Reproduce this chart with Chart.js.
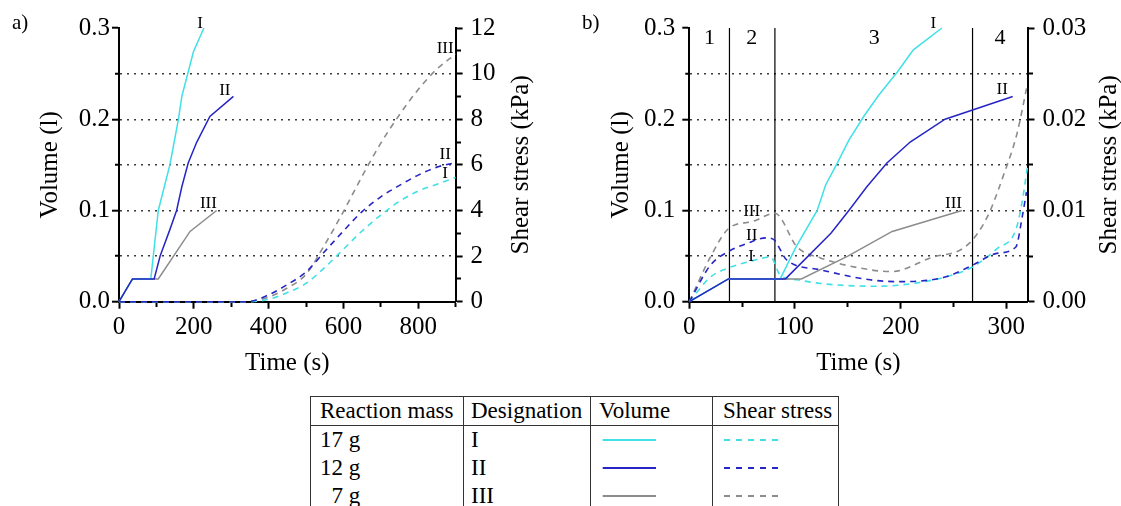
<!DOCTYPE html>
<html>
<head>
<meta charset="utf-8">
<script src="https://cdn.jsdelivr.net/npm/chart.js@4.4.1/dist/chart.umd.min.js"></script>
<style>
  body { margin: 0; width: 1121px; height: 506px; overflow: hidden; background: #fff; position: relative;
         font-family: "Liberation Serif", "Times New Roman", serif; color: #000; }
  canvas { position: absolute; top: 0; }
  .tag { position: absolute; top: 12px; font-size: 21px; line-height: 1; }
  table { position: absolute; left: 310px; top: 396px; border-collapse: collapse; font-size: 23px; table-layout: fixed; }
  th, td { text-align: left; font-weight: normal; border-left: 1.5px solid #333; border-right: 1.5px solid #333;
           height: 28px; line-height: 28px; padding: 0 0 0 8px; white-space: nowrap; vertical-align: middle; overflow: hidden; }
  th { border-top: 1.5px solid #333; border-bottom: 1.5px solid #333; height: 28px; }
  .c1 { padding-left: 9px; } .c2 { padding-left: 7px; } .c3 { padding-left: 8px; } .c4 { padding-left: 10px; }
  td svg { display: block; }
</style>
</head>
<body>
<canvas id="chartA" width="560" height="385" style="left:0"></canvas>
<canvas id="chartB" width="561" height="385" style="left:560px"></canvas>
<div class="tag" style="left:12px">a)</div>
<div class="tag" style="left:582px">b)</div>
<table id="legend">
  <colgroup><col style="width:153px"><col style="width:127px"><col style="width:122px"><col style="width:126px"></colgroup>
  <thead><tr><th class="c1">Reaction mass</th><th class="c2">Designation</th><th class="c3">Volume</th><th class="c4">Shear stress</th></tr></thead>
  <tbody></tbody>
</table>
<script>
// series I, II, III
const masses = [17, 12, 7];
const designations = ['I', 'II', 'III'];
const colors = ['#3fe0e6', '#2626c4', '#8c8c8c'];

// ---- panel a (time 0-900 s) ----
const aVolI_t = [0, 36, 85, 105, 136, 159, 168, 199, 227];
const aVolI_v = [0, 0.025, 0.025, 0.1, 0.15, 0.2, 0.225, 0.274, 0.3];
const aVolII_t = [0, 36, 94, 110, 136, 154, 168, 185, 208, 243, 306];
const aVolII_v = [0, 0.025, 0.025, 0.05, 0.079, 0.1, 0.126, 0.152, 0.175, 0.203, 0.225];
const aVolIII_t = [0, 36, 105, 190, 261];
const aVolIII_v = [0, 0.025, 0.025, 0.077, 0.1];

const aShear_t = [0, 340, 400, 450, 500, 550, 600, 650, 700, 750, 800, 850, 900];
const aShearI = [0, 0, 0.1, 0.4, 0.8, 1.5, 2.3, 3.1, 3.8, 4.4, 4.85, 5.15, 5.45];
const aShearII = [0, 0, 0.3, 0.75, 1.3, 2.2, 3.1, 3.95, 4.6, 5.1, 5.55, 5.9, 6.1];
const aShearIII = [0, 0, 0.2, 0.6, 1.2, 2.5, 3.95, 5.5, 6.95, 8.2, 9.3, 10.2, 10.85];

// ---- panel b (time 0-320 s) ----
const bVolI_t = [0, 37, 86, 101, 121, 129, 140, 151, 165, 179, 197, 212, 239];
const bVolI_v = [0, 0.025, 0.025, 0.06, 0.1, 0.128, 0.152, 0.177, 0.203, 0.226, 0.252, 0.276, 0.3];
const bVolII_t = [0, 37, 91, 134, 151, 168, 187, 209, 242, 306];
const bVolII_v = [0, 0.025, 0.025, 0.075, 0.1, 0.126, 0.152, 0.175, 0.2, 0.225];
const bVolIII_t = [0, 37, 106, 150, 192, 258];
const bVolIII_v = [0, 0.025, 0.025, 0.05, 0.077, 0.1];

const bShearI_t = [0, 20, 37, 60, 77, 86, 102, 124, 171, 197, 242, 268, 291, 309, 315, 320];
const bShearI_v = [0, 0.0027, 0.0037, 0.0045, 0.0049, 0.0029, 0.0024, 0.0020, 0.0017, 0.0018, 0.0027, 0.0038, 0.0058, 0.0079, 0.011, 0.0148];
const bShearII_t = [0, 20, 37, 55, 73, 80, 92, 124, 171, 197, 242, 268, 291, 309, 315, 319];
const bShearII_v = [0, 0.0040, 0.0055, 0.0064, 0.0070, 0.0068, 0.0046, 0.0035, 0.0024, 0.0022, 0.0027, 0.0040, 0.0053, 0.0060, 0.0093, 0.0120];
const bShearIII_t = [0, 20, 37, 60, 81, 102, 124, 171, 192, 228, 263, 282, 298, 310, 320];
const bShearIII_v = [0, 0.0049, 0.0080, 0.0088, 0.0097, 0.0060, 0.0048, 0.0035, 0.0033, 0.0048, 0.0062, 0.0093, 0.0141, 0.0184, 0.0239];

const regionBounds = [38, 81, 268];
const regionNames = ['1', '2', '3', '4'];
const regionCenters = [19, 59, 175, 294];

// tick values and labels ('' = minor tick)
const aTimeTicks = [0, 100, 200, 300, 400, 500, 600, 700, 800, 900];
const aTimeLabels = ['0', '', '200', '', '400', '', '600', '', '800', ''];
const bTimeTicks = [0, 50, 100, 150, 200, 250, 300];
const bTimeLabels = ['0', '', '100', '', '200', '', '300'];
const volTicks = [0, 0.05, 0.1, 0.15, 0.2, 0.25, 0.3];
const volLabels = ['0.0', '', '0.1', '', '0.2', '', '0.3'];
const aShearTicks = [0, 1, 2, 3, 4, 5, 6, 7, 8, 9, 10, 11, 12];
const aShearLabels = ['0', '', '2', '', '4', '', '6', '', '8', '', '10', '', '12'];
const bShearTicks = [0, 0.005, 0.01, 0.015, 0.02, 0.025, 0.03];
const bShearLabels = ['0.00', '', '0.01', '', '0.02', '', '0.03'];

const FONT = '"Liberation Serif", "Times New Roman", serif';
Chart.defaults.font.family = FONT;
Chart.defaults.color = '#000';

const pts = (t, v) => t.map((x, i) => ({x: x, y: v[i]}));

const solid = (t, v, color) => ({
  data: pts(t, v), borderColor: color, borderWidth: 1.5, pointRadius: 0, yAxisID: 'y', clip: 4
});
const dashed = (t, v, color) => ({
  data: pts(t, v), borderColor: color, borderWidth: 1.6, borderDash: [6, 5], pointRadius: 0,
  yAxisID: 'y2', cubicInterpolationMode: 'monotone', clip: 4
});

const setTicks = (values) => (scale) => { scale.ticks = values.map(v => ({value: v})); };

// text drawn at data positions + right axis title (reads bottom to top)
const panelText = {
  id: 'panelText',
  afterDatasetsDraw(chart, args, opts) {
    const {ctx, scales} = chart;
    ctx.save();
    ctx.fillStyle = '#000';
    ctx.textAlign = 'center';
    ctx.textBaseline = 'middle';
    opts.marks.forEach(m => {
      ctx.font = m.size + 'px ' + FONT;
      ctx.fillText(m.text, scales.x.getPixelForValue(m.x), scales.y.getPixelForValue(m.y));
    });
    ctx.font = '25px ' + FONT;
    ctx.translate(scales.y2.right - opts.titleOffset, (scales.y.top + scales.y.bottom) / 2);
    ctx.rotate(-Math.PI / 2);
    ctx.fillText('Shear stress (kPa)', 0, 0);
    ctx.restore();
  }
};

const buildPanel = (where, p) => {
  const ctx = document.getElementById(where).getContext('2d');
  const minorDashOut = (labels) => (c) => labels[c.index] === '' ? [4, 100] : [];
  const config = {
    type: 'line',
    data: { datasets: p.datasets },
    plugins: [panelText],
    options: {
      responsive: false,
      animation: false,
      devicePixelRatio: 1,
      layout: { padding: { top: 28, left: 0, right: 0, bottom: 0 } },
      plugins: {
        legend: { display: false },
        tooltip: { enabled: false },
        panelText: { marks: p.marks, titleOffset: p.rightTitleOffset }
      },
      scales: {
        x: {
          type: 'linear', min: 0, max: p.xMax,
          afterBuildTicks: setTicks(p.xTicks),
          afterFit: (s) => { s.height = 83.3; s.paddingLeft = 0; s.paddingRight = 0; },
          ticks: { callback: (v, i) => p.xLabels[i], padding: 4, maxRotation: 0, autoSkip: false, font: { size: 25 } },
          grid: { drawOnChartArea: false, tickLength: 7, tickWidth: 2, tickColor: '#000',
                  tickBorderDash: minorDashOut(p.xLabels) },
          border: { color: '#000', width: 2 },
          title: { display: true, text: 'Time (s)', font: { size: 25 }, padding: { top: 0, bottom: 7 } }
        },
        y: {
          type: 'linear', position: 'left', min: 0, max: 0.3,
          afterBuildTicks: setTicks(volTicks),
          afterFit: (s) => { s.width = p.leftWidth; s.paddingTop = 0; s.paddingBottom = 0; },
          ticks: { callback: (v, i) => volLabels[i], padding: p.leftPad, autoSkip: false, font: { size: 25 } },
          grid: {
            color: (c) => (c.index > 0 && c.index < volTicks.length - 1) ? '#3a3a3a' : 'rgba(0,0,0,0)',
            lineWidth: 1.4, tickLength: 7, tickWidth: 2, tickColor: '#000',
            tickBorderDash: (c) => volLabels[c.index] === '' ? [0, 3, 4, 100] : []
          },
          border: { color: '#000', width: 2, dash: [2, 5] },
          title: { display: true, text: 'Volume (l)', font: { size: 25 }, padding: { top: p.leftTitlePad, bottom: 0 } }
        },
        y2: {
          type: 'linear', position: 'right', min: 0, max: p.shearMax,
          afterBuildTicks: setTicks(p.shearTicks),
          afterFit: (s) => { s.width = p.rightWidth; s.paddingTop = 0; s.paddingBottom = 0; },
          ticks: { callback: (v, i) => p.shearLabels[i], padding: 8, autoSkip: false, font: { size: 25 } },
          grid: { drawOnChartArea: false, tickLength: 7, tickWidth: 2, tickColor: '#000',
                  tickBorderDash: minorDashOut(p.shearLabels) },
          border: { color: '#000', width: 2 }
        }
      }
    }
  };
  new Chart(ctx, config);
};

const numeral = (text, x, y) => ({text: text, x: x, y: y, size: 17});

buildPanel('chartA', {
  xMax: 900, xTicks: aTimeTicks, xLabels: aTimeLabels,
  shearMax: 12, shearTicks: aShearTicks, shearLabels: aShearLabels,
  leftWidth: 119, rightWidth: 104.4, leftPad: 2, leftTitlePad: 35, rightTitleOffset: 38.5,
  datasets: [
    solid(aVolII_t, aVolII_v, colors[1]),
    solid(aVolI_t, aVolI_v, colors[0]),
    solid(aVolIII_t, aVolIII_v, colors[2]),
    dashed(aShear_t, aShearII, colors[1]),
    dashed(aShear_t, aShearI, colors[0]),
    dashed(aShear_t, aShearIII, colors[2])
  ],
  marks: [
    numeral('I', 217, 0.305), numeral('II', 283, 0.231), numeral('III', 239, 0.108),
    numeral('III', 872, 0.2775), numeral('II', 872, 0.161), numeral('I', 872, 0.141)
  ]
});

buildPanel('chartB', {
  xMax: 320, xTicks: bTimeTicks, xLabels: bTimeLabels,
  shearMax: 0.03, shearTicks: bShearTicks, shearLabels: bShearLabels,
  leftWidth: 129.3, rightWidth: 93.5, leftPad: 7, leftTitlePad: 46, rightTitleOffset: 12,
  datasets: [
    solid(bVolII_t, bVolII_v, colors[1]),
    solid(bVolI_t, bVolI_v, colors[0]),
    solid(bVolIII_t, bVolIII_v, colors[2]),
    dashed(bShearII_t, bShearII_v, colors[1]),
    dashed(bShearI_t, bShearI_v, colors[0]),
    dashed(bShearIII_t, bShearIII_v, colors[2])
  ].concat(regionBounds.map(t => ({
    data: pts([t, t], [0, 0.3]), borderColor: '#000', borderWidth: 1.2, pointRadius: 0, yAxisID: 'y'
  }))),
  marks: [
    numeral('I', 231, 0.305), numeral('II', 296, 0.233), numeral('III', 250, 0.108),
    numeral('III', 59, 0.0985), numeral('II', 59, 0.073), numeral('I', 58.5, 0.049)
  ].concat(regionNames.map((n, i) => ({text: n, x: regionCenters[i], y: 0.289, size: 22})))
});

// legend table rows
const tbody = document.querySelector('#legend tbody');
masses.forEach((m, i) => {
  const pad = String(m).length < 2 ? '<span style="visibility:hidden">1</span>' : '';
  const line = (dash) => '<svg width="60" height="4"><line x1="' + (dash ? 1 : 3.7) + '" y1="2" x2="' + (dash ? 55 : 57) +
    '" y2="2" stroke="' + colors[i] + '" stroke-width="2"' + (dash ? ' stroke-dasharray="6 6"' : '') + '/></svg>';
  const tr = document.createElement('tr');
  tr.innerHTML = '<td class="c1">' + pad + m + ' g</td><td class="c2">' + designations[i] + '</td>' +
    '<td class="c3">' + line(false) + '</td><td class="c4">' + line(true) + '</td>';
  tbody.appendChild(tr);
});
</script>
</body>
</html>
